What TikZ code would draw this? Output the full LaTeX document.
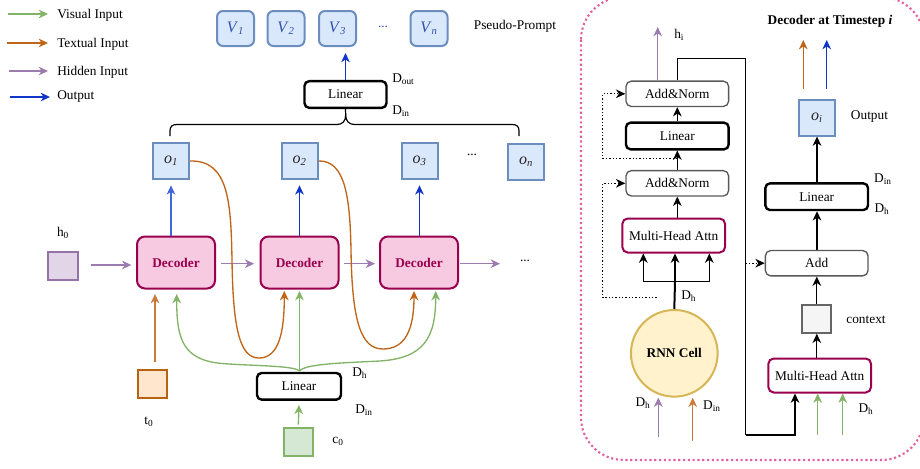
\documentclass[tikz,border=0pt]{standalone}
\usepackage{fontspec}
\setmainfont{Liberation Serif}
\usetikzlibrary{arrows.meta}
\definecolor{cgreen}{HTML}{82B366}
\definecolor{corange}{HTML}{BF6418}
\definecolor{cpurple}{HTML}{9C7BAF}
\definecolor{cblue}{HTML}{1035C8}
\definecolor{cblueL}{HTML}{4466DD}
\definecolor{cpinkfill}{HTML}{F7CAE2}
\definecolor{cmag}{HTML}{99004D}
\definecolor{cofill}{HTML}{DAE8FC}
\definecolor{costroke}{HTML}{6C8EBF}
\definecolor{cvtext}{HTML}{3050B0}
\definecolor{chfill}{HTML}{E1D5E7}
\definecolor{chstroke}{HTML}{9673A6}
\definecolor{ctfill}{HTML}{FFE6CC}
\definecolor{ctstroke}{HTML}{B86212}
\definecolor{ccfill}{HTML}{D5E8D4}
\definecolor{crfill}{HTML}{FFF2CC}
\definecolor{crstroke}{HTML}{D6B656}
\definecolor{cxfill}{HTML}{F5F5F5}
\definecolor{cxstroke}{HTML}{666666}
\definecolor{cborder}{HTML}{E4619F}
\begin{document}
\begin{tikzpicture}[x=0.75pt,y=-0.75pt,
  arr/.style={-{Stealth[length=7pt,width=6.5pt,inset=2.2pt]}, line width=1pt},
  darr/.style={-{Stealth[length=7pt,width=6.5pt,inset=2.2pt]}, line width=0.8pt, dash pattern=on 1pt off 1.5pt},
  vbox/.style={draw=costroke, fill=cofill, rounded corners=4.5pt, line width=1.5pt, minimum width=27.75pt, minimum height=26.25pt, inner sep=0pt, text=cvtext, font=\large},
  obox/.style={draw=costroke, fill=cofill, line width=1.5pt, minimum width=27pt, minimum height=27pt, inner sep=0pt, text=black!85, font=\large},
  dec/.style={draw=cmag, fill=cpinkfill, line width=1.5pt, rounded corners=6pt, minimum width=58.5pt, minimum height=39pt, text=cmag, font=\bfseries},
  lin/.style={draw=black, line width=1.8pt, rounded corners=3.5pt, minimum height=20pt, inner sep=0pt},
  anbox/.style={draw=black!65, line width=1pt, rounded corners=4pt, minimum width=77pt, minimum height=19pt, inner sep=0pt},
  mha/.style={draw=cmag, line width=1.5pt, rounded corners=4pt, fill=white, minimum width=77pt, minimum height=25.5pt, inner sep=0pt},
  sq/.style={line width=1.5pt, inner sep=0pt, minimum width=22pt, minimum height=21pt},
  lbl/.style={inner sep=0pt}]
\useasboundingbox (0,0) rectangle (920,468);

% ---------- legend ----------
\coordinate (lg1a) at (8,14);  \coordinate (lg1b) at (48,14);
\coordinate (lg2a) at (7,43);  \coordinate (lg2b) at (48,43);
\coordinate (lg3a) at (9,71);  \coordinate (lg3b) at (48,71);
\coordinate (lg4a) at (10,97); \coordinate (lg4b) at (50,97);
\draw[arr, cgreen] (lg1a) -- (lg1b);
\draw[arr, corange] (lg2a) -- (lg2b);
\draw[arr, cpurple] (lg3a) -- (lg3b);
\draw[arr, cblue] (lg4a) -- (lg4b);
\node[lbl, anchor=west] (lt1) at (57,15) {Visual Input};
\node[lbl, anchor=west] (lt2) at (57,44) {Textual Input};
\node[lbl, anchor=west] (lt3) at (57,72) {Hidden Input};
\node[lbl, anchor=west] (lt4) at (57,97) {Output};

% ---------- pseudo prompt ----------
\node[vbox] (V1) at (235.5,28.5) {\textit{V}\textsubscript{\textit{1}}};
\node[vbox] (V2) at (286,28.5) {\textit{V}\textsubscript{\textit{2}}};
\node[vbox] (V3) at (337.5,28.5) {\textit{V}\textsubscript{\textit{3}}};
\node[lbl, text=cvtext] (vdots) at (383,27) {...};
\node[vbox] (Vn) at (429,28.5) {\textit{V}\textsubscript{\textit{n}}};
\node[lbl] (pp) at (515,26) {Pseudo-Prompt};

\node[lin, minimum width=61.5pt] (linTop) at (345.5,94.5) {Linear};
\coordinate (v3t) at (345.5,53);
\draw[arr, cblue] (linTop.north) -- (v3t);
\node[lbl, anchor=west] (dout) at (392,79) {D\textsubscript{out}};
\node[lbl, anchor=west] (dinT) at (392,111) {D\textsubscript{in}};

% brace
\coordinate (brtip) at (345.7,115);
\draw[line width=0.9pt] (linTop.south) -- (brtip);
\draw[line width=0.9pt] (170,136) -- (170,131) .. controls (170,126.5) and (172,124.5) .. (177,124.5) -- (337,124.5) .. controls (342.5,124.5) and (345.7,121) .. (brtip) .. controls (345.7,121) and (349,124.5) .. (354.5,124.5) -- (512,124.5) .. controls (517,124.5) and (519,126.5) .. (519,131) -- (519,136);

% ---------- outputs ----------
\node[obox] (o1) at (171,161) {\textit{o}\textsubscript{\textit{1}}};
\node[obox] (o2) at (299.5,161) {\textit{o}\textsubscript{\textit{2}}};
\node[obox] (o3) at (419.5,161) {\textit{o}\textsubscript{\textit{3}}};
\node[lbl] (odots) at (472,155) {...};
\node[obox] (on) at (526,162) {\textit{o}\textsubscript{\textit{n}}};

% ---------- decoders ----------
\node[dec] (D1) at (176,262.5) {Decoder};
\node[dec] (D2) at (299.5,262.5) {Decoder};
\node[dec] (D3) at (419,262.5) {Decoder};
\node[lbl] (ddots) at (525,261) {...};

\draw[arr, cblueL] (o1.south |- D1.north) -- ([yshift=-4pt]o1.south);
\draw[arr, cblue] (o2.south |- D2.north) -- ([yshift=-4pt]o2.south);
\draw[arr, cblue] (o3.south |- D3.north) -- ([yshift=-4pt]o3.south);

% hidden
\node[sq, draw=chstroke, fill=chfill] (h0) at (63,265.5) {};
\node[lbl] (h0l) at (63,233) {h\textsubscript{0}};
\coordinate (hy1) at (0,265);
\coordinate (hy2) at (0,263.7);
\draw[arr, cpurple] ([xshift=9.5pt]h0.east |- hy1) -- ([xshift=-3.5pt]D1.west |- hy1);
\draw[arr, cpurple] ([xshift=3.5pt]D1.east |- hy2) -- ([xshift=-4pt]D2.west |- hy2);
\draw[arr, cpurple] ([xshift=3pt]D2.east |- hy2) -- ([xshift=-3pt]D3.west |- hy2);
\coordinate (hend) at (500,263.7);
\draw[arr, cpurple] ([xshift=0.5pt]D3.east |- hy2) -- (hend);

% textual
\node[sq, draw=ctstroke, fill=ctfill] (t0) at (152.5,383.5) {};
\node[lbl] (t0l) at (149,422) {t\textsubscript{0}};
\coordinate (t0top) at (155,362);
\coordinate (D1t) at (155,294);
\draw[arr, corange!85!white] (t0top) -- (D1t);

% orange feedback curves
\coordinate (D2t) at (284.3,291);
\coordinate (D3t) at (414,291);
\draw[arr, corange] (o1.east) .. controls (228,160) and (231,200) .. (232,260) .. controls (233,330) and (240,358) .. (259,358) .. controls (279,358) and (284.3,332) .. (D2t);
\draw[arr, corange] (o2.east) .. controls (346,160) and (350,200) .. (351,250) .. controls (352,322) and (361,349) .. (383,349) .. controls (405,349) and (414,330) .. (D3t);

% visual
\node[lin, minimum width=63pt] (linBot) at (299,386.3) {Linear};
\node[lbl, anchor=west] (dhB) at (352,373) {D\textsubscript{h}};
\node[lbl, anchor=west] (dinB) at (355,410) {D\textsubscript{in}};
\node[sq, draw=cgreen, fill=ccfill] (c0) at (298.3,441.7) {};
\node[lbl] (c0l) at (338,441) {c\textsubscript{0}};
\draw[arr, cgreen] ([yshift=1.5pt]c0.north) -- ([yshift=-3pt]linBot.south);
\coordinate (gs) at (299.5,371);
\coordinate (g1) at (176.7,294);
\coordinate (g2) at (299.5,291);
\coordinate (g3) at (435.7,291);
\draw[arr, cgreen] (gs) .. controls (294,365.5) and (255,366) .. (222,363.5) .. controls (182,360) and (176.7,338) .. (g1);
\draw[arr, cgreen] (gs) -- (g2);
\draw[arr, cgreen] (gs) .. controls (305,364) and (340,363) .. (380,361) .. controls (424,358) and (435.7,338) .. (g3);

% ---------- right panel ----------
\draw[cborder, line width=1.6pt, dash pattern=on 1.6pt off 2pt, rounded corners=32pt] (581,-3) rectangle (924,460);

\node[lbl] (title) at (830,21.5) {\textbf{Decoder at Timestep \textit{i}}};

\node[anbox] (AN2) at (677.3,93.8) {Add\&Norm};
\node[lin, minimum width=77pt] (LR1) at (677.3,136) {Linear};
\node[anbox] (AN1) at (677.3,183.3) {Add\&Norm};
\node[mha] (MHA1) at (673.7,235.5) {Multi-Head Attn};
\node[circle, draw=crstroke, fill=crfill, line width=1.5pt, minimum size=65pt, inner sep=0pt, font=\bfseries] (RNN) at (674.3,353.3) {RNN Cell};

\draw[arr] (LR1.north) -- (AN2.south);
\draw[arr] (AN1.north) -- (LR1.south);
\draw[arr] (MHA1.north -| AN1.south) -- (AN1.south);

\coordinate (hitip) at (657.7,27);
\draw[arr, cpurple] (AN2.north -| hitip) -- (hitip);
\node[lbl, anchor=west] (hil) at (674,35) {h\textsubscript{i}};

% RNN split
\coordinate (sp) at (675,281.7);
\coordinate (spl) at (643.3,281.7);
\coordinate (spr) at (709.3,281.7);
\draw[line width=1.5pt] (RNN.north) -- (sp);
\draw[line width=1pt] (spl) -- (spr);
\draw[arr] (spl) -- (MHA1.south -| spl);
\draw[arr] (sp) -- (MHA1.south -| sp);
\draw[arr] (spr) -- (MHA1.south -| spr);
\node[lbl, anchor=west] (dhR) at (681,296) {D\textsubscript{h}};

% residual dotted
\coordinate (r1) at (677.3,158.3);
\coordinate (r1c) at (602.7,158.3);
\draw[darr] (r1) -- (r1c) |- (AN2.west);
\coordinate (r2) at (656.7,297.7);
\coordinate (r2c) at (602.7,297.7);
\draw[darr] (r2) -- (r2c) |- (AN1.west);

% RNN inputs
\coordinate (ri1) at (658.3,437.3);
\coordinate (ri2) at (692.7,440.7);
\draw[arr, cpurple] (ri1) -- (ri1 |- RNN.south);
\draw[arr, corange!85!white] (ri2) -- (ri2 |- RNN.south);
\node[lbl] (dhR2) at (643,403) {D\textsubscript{h}};
\node[lbl] (dinR2) at (712,406) {D\textsubscript{in}};

% right stack
\node[obox] (oi) at (817,117.5) {\textit{o}\textsubscript{\textit{i}}};
\node[lbl] (outl) at (869.5,117) {Output};
\coordinate (oa1) at (803.3,89.3); \coordinate (oa1t) at (803.3,40);
\coordinate (oa2) at (826.7,89.3); \coordinate (oa2t) at (826.7,40);
\draw[arr, corange] (oa1) -- (oa1t);
\draw[arr, cblue] (oa2) -- (oa2t);

\node[lin, minimum width=77pt] (LR2) at (816.7,196.7) {Linear};
\node[lbl] (dinR) at (883,179) {D\textsubscript{in}};
\node[lbl] (dhRR) at (882,209) {D\textsubscript{h}};
\node[anbox] (Add) at (816.7,263.2) {Add};
\node[sq, draw=cxstroke, fill=cxfill] (ctx) at (816.8,318.7) {};
\node[lbl] (ctxl) at (866,320) {context};
\node[mha] (MHA2) at (819.7,375.5) {Multi-Head Attn};
\node[lbl] (dhM2) at (866,409) {D\textsubscript{h}};

\draw[arr] (LR2.north -| oi.south) -- (oi.south);
\draw[arr] (Add.north -| oi.south) -- (LR2.south -| oi.south);
\draw[arr] (ctx.north) -- (Add.south -| ctx.north);
\draw[arr] (MHA2.north -| ctx.south) -- (ctx.south);

% long connector
\coordinate (lk1) at (745.7,58.3);
\coordinate (lk2) at (745.7,435);
\coordinate (x795) at (795,0);
\draw[line width=1pt] (AN2.north) |- (lk1) -- (lk2);
\draw[arr] (lk2) -| (MHA2.south -| x795);
\coordinate (lk3) at (745.7,263.2);
\draw[darr] (lk3) -- (Add.west);

% green inputs to MHA2
\coordinate (gi1) at (817.7,435);
\coordinate (gi2) at (842.7,435);
\draw[arr, cgreen] (gi1) -- (MHA2.south -| gi1);
\draw[arr, cgreen] (gi2) -- (MHA2.south -| gi2);
\end{tikzpicture}
\end{document}
